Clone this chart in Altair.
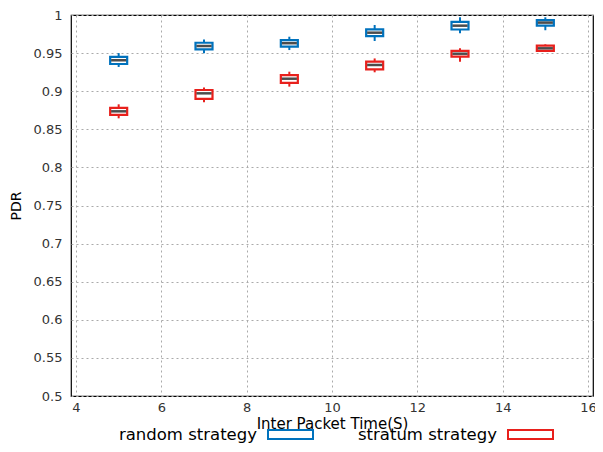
import altair as alt
import pandas as pd

# Inter packet time (x) positions
x_vals = [5, 7, 9, 11, 13, 15]

# random strategy box statistics
rand_low = [0.9318, 0.9497, 0.9540, 0.9659, 0.9760, 0.9800]
rand_q1 = [0.9357, 0.9550, 0.9584, 0.9724, 0.9810, 0.9860]
rand_med = [0.9406, 0.9593, 0.9630, 0.9768, 0.9860, 0.9900]
rand_q3 = [0.9450, 0.9636, 0.9670, 0.9812, 0.9910, 0.9934]
rand_high = [0.9500, 0.9680, 0.9715, 0.9869, 0.9970, 0.9970]

# stratum strategy box statistics
strat_low = [0.8644, 0.8854, 0.9060, 0.9248, 0.9387, 0.9514]
strat_q1 = [0.8690, 0.8898, 0.9110, 0.9287, 0.9453, 0.9528]
strat_med = [0.8736, 0.8972, 0.9164, 0.9344, 0.9492, 0.9563]
strat_q3 = [0.8780, 0.9016, 0.9210, 0.9387, 0.9528, 0.9597]
strat_high = [0.8828, 0.9050, 0.9256, 0.9430, 0.9563, 0.9615]

series = ["random strategy", "stratum strategy"]
colors = ["#0072bd", "#e8201c"]

x_ticks = [4, 6, 8, 10, 12, 14, 16]
y_ticks = [0.5, 0.55, 0.6, 0.65, 0.7, 0.75, 0.8, 0.85, 0.9, 0.95, 1.0]

rows = []
for name, lo, q1, md, q3, hi in [
    (series[0], rand_low, rand_q1, rand_med, rand_q3, rand_high),
    (series[1], strat_low, strat_q1, strat_med, strat_q3, strat_high),
]:
    for i, x in enumerate(x_vals):
        rows.append(dict(x=x, strategy=name, low=lo[i], q1=q1[i], med=md[i], q3=q3[i], high=hi[i]))
df = pd.DataFrame(rows)

FONT = "DejaVu Sans"

x_scale = alt.Scale(domain=[4, 16], nice=False, zero=False)
y_scale = alt.Scale(domain=[0.5, 1.0], nice=False, zero=False)
x_axis = alt.Axis(values=x_ticks, title="Inter Packet Time(S)", format="d")
y_axis = alt.Axis(values=y_ticks, title="PDR", labelOverlap=False, tickCount=11,
                  labelExpr="format(datum.value, '.2~f')")

color_scale = alt.Scale(domain=series, range=colors)
legend = alt.Legend(
    title=None, orient="none", direction="horizontal",
    legendX=196, legendY=396,
    symbolType="M-1,-0.2H1V0.2H-1Z", symbolSize=2025,
    symbolStrokeWidth=2, symbolFillColor="white",
    labelFont=FONT, labelFontSize=16.5, labelColor="black",
    labelAlign="right", labelOffset={"expr": "-57"},
    columnPadding=40,
)

base = alt.Chart(df)

whisker = base.mark_rule(strokeWidth=2).encode(
    x=alt.X("x:Q", scale=x_scale, axis=x_axis),
    y=alt.Y("low:Q", scale=y_scale, axis=y_axis),
    y2="high:Q",
    stroke=alt.Stroke("strategy:N", scale=color_scale, legend=legend),
)

box = base.mark_bar(size=17, fill="white", strokeWidth=2.2).encode(
    x=alt.X("x:Q", scale=x_scale, axis=x_axis),
    y=alt.Y("q1:Q", scale=y_scale, axis=y_axis),
    y2="q3:Q",
    stroke=alt.Stroke("strategy:N", scale=color_scale, legend=legend),
)

median = base.mark_tick(color="black", size=15, thickness=2.5, orient="horizontal").encode(
    x=alt.X("x:Q", scale=x_scale, axis=x_axis),
    y=alt.Y("med:Q", scale=y_scale, axis=y_axis),
)

chart = alt.layer(whisker, box, median).properties(
    width=522, height=381,
    autosize=alt.AutoSizeParams(type="none"),
    padding={"left": 63, "top": 7, "right": 2, "bottom": 48},
).configure_view(
    stroke="black", strokeWidth=1.2,
).configure_axis(
    labelFont=FONT, labelFontSize=13, labelColor="#333333",
    titleFont=FONT, titleFontSize=15, titleColor="black", titleFontWeight="normal",
    grid=True, gridColor="#aaaaaa", gridDash=[2, 3], gridWidth=1,
    domain=False, ticks=False, labelPadding=6,
).configure_axisX(
    titlePadding=2, labelPadding=5,
).configure_axisY(
    titlePadding=10, labelPadding=9, titleFontSize=14,
)

chart.save("out.html", embed_options={"renderer": "svg", "actions": False})
